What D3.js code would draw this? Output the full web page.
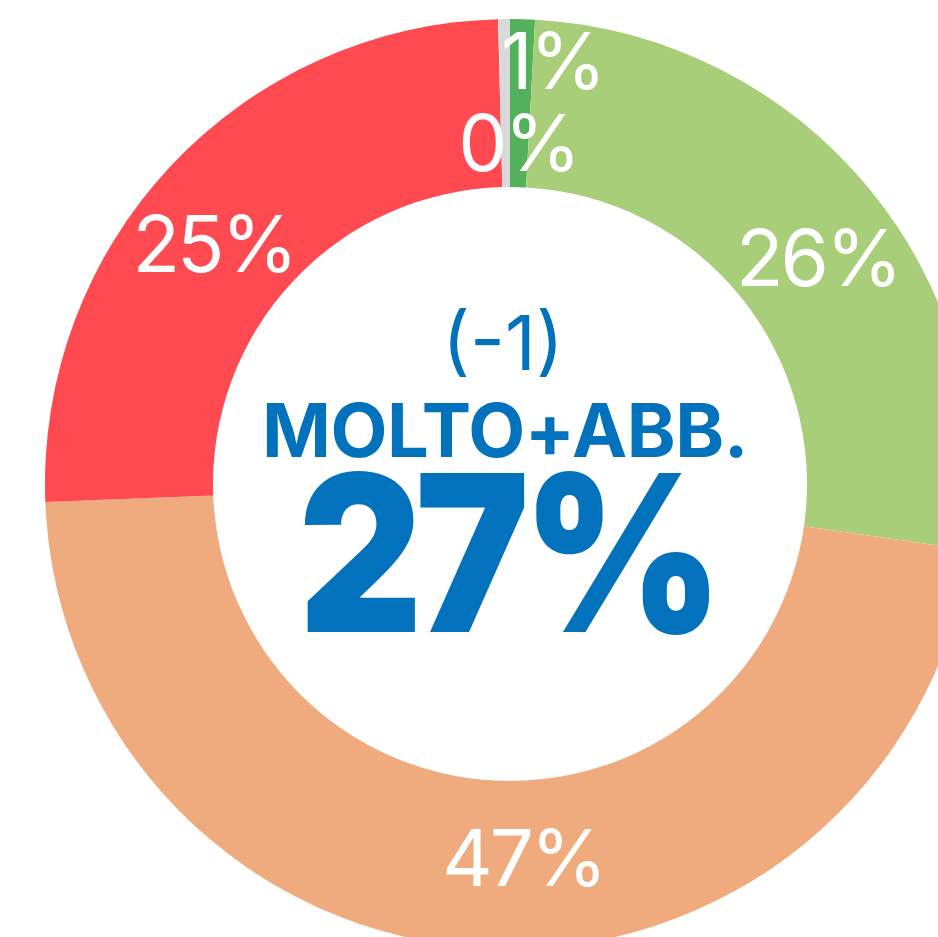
<!DOCTYPE html>
<html>
<head>
<meta charset="utf-8">
<script src="https://cdn.jsdelivr.net/npm/d3@7"></script>
<style>
  html, body { margin: 0; padding: 0; background: #fff; }
  svg { display: block; }
  text { font-family: Inter, "Open Sans", sans-serif; }
</style>
</head>
<body>
<svg id="chart" width="938" height="937"></svg>
<script>
// ---- data ----
const categories = ['Molto', 'Abbastanza', 'Poco', 'Per niente', 'Non sa'];
const values     = [0.86, 26.4, 47.1, 25.2, 0.41];
const labels     = ['1%', '26%', '47%', '25%', '0%'];
const colors     = ['#52B15A', '#A8CE7A', '#EFAB7D', '#FF4A52', '#D9D9D9'];

const centerDelta = '(-1)';
const centerTitle = 'MOLTO+ABB.';
const centerValue = '27%';

// ---- layout ----
const W = 938, H = 937;
const cx = 510, cy = 484;
const outerR = 465, innerR = 297, labelR = 380;
// small hand nudges so labels sit where the original put them
const labelNudge = [[32, -43], [14, 15], [33, -6], [-19, 20], [13, 39]];

const svg = d3.select('#chart').attr('viewBox', `0 0 ${W} ${H}`);
const g = svg.append('g').attr('transform', `translate(${cx},${cy})`);

const pie = d3.pie().sort(null).value(d => d.value);
const arcs = pie(categories.map((c, i) => ({ name: c, value: values[i], label: labels[i], color: colors[i] })));

const arc = d3.arc().innerRadius(innerR).outerRadius(outerR);
const labelArc = d3.arc().innerRadius(labelR).outerRadius(labelR);

g.selectAll('path.slice')
  .data(arcs)
  .join('path')
  .attr('class', 'slice')
  .attr('d', arc)
  .attr('fill', d => d.data.color);

g.selectAll('text.lbl')
  .data(arcs)
  .join('text')
  .attr('class', 'lbl')
  .attr('transform', (d, i) => {
    const [x, y] = labelArc.centroid(d);
    return `translate(${x + labelNudge[i][0]},${y + labelNudge[i][1]})`;
  })
  .attr('text-anchor', 'middle')
  .attr('dy', '0.36em')
  .attr('fill', '#fff')
  .attr('font-size', 78)
  .attr('font-weight', 400)
  .attr('letter-spacing', -3)
  .text(d => d.data.label);

// ---- centre text ----
const blue = '#0372BC';
const ctr = svg.append('g');

ctr.append('text')
  .attr('x', 503).attr('y', 370)
  .attr('text-anchor', 'middle')
  .attr('fill', blue).attr('font-size', 76).attr('font-weight', 400)
  .text(centerDelta);

ctr.append('text')
  .attr('x', 505).attr('y', 457)
  .attr('text-anchor', 'middle')
  .attr('fill', blue).attr('font-size', 74).attr('font-weight', 700)
  .attr('letter-spacing', -0.5)
  .text(centerTitle);

// big number, squeezed a little to match the original's narrower face
ctr.append('text')
  .attr('transform', 'translate(507,632) scale(0.88,1)')
  .attr('text-anchor', 'middle')
  .attr('fill', blue).attr('font-size', 218).attr('font-weight', 900)
  .attr('letter-spacing', -8)
  .text(centerValue);
</script>
</body>
</html>
